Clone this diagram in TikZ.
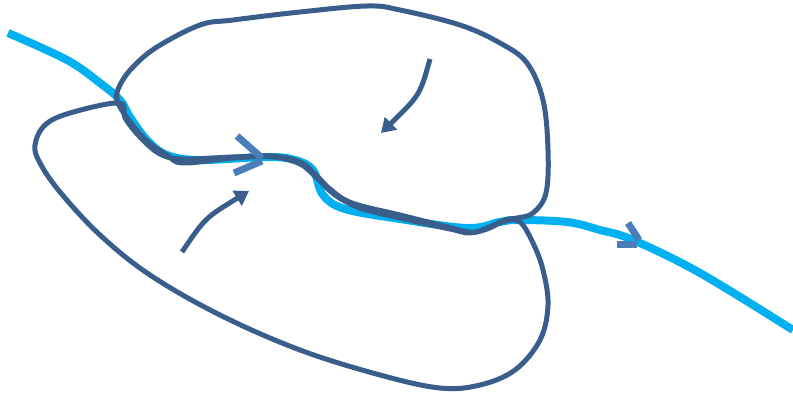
\documentclass[tikz,border=0pt]{standalone}
\usetikzlibrary{arrows.meta}
\definecolor{darkblue}{RGB}{58,94,140}
\definecolor{lightblue}{RGB}{0,176,240}
\definecolor{markblue}{RGB}{74,126,187}
\tikzset{
  loopline/.style={draw=darkblue,line width=5pt,line join=round},
  flowline/.style={draw=lightblue,line width=8pt,line join=round},
  markline/.style={draw=markblue,line width=7pt},
  curvedarrow/.style={draw=darkblue,line width=5pt,-{Triangle[length=14pt,width=17pt]}}
}
\begin{document}
\begin{tikzpicture}[x=1pt,y=-1pt]
\useasboundingbox (0,0) rectangle (793,396);
% light blue flow line
\draw[flowline] plot[smooth,tension=0.6] coordinates {(8,33) (67,60) (100,83) (120,100) (130,117) (147,140) (167,155) (200,160) (267,157) (295,160) (313,170) (323,195) (345,209) (400,219) (467,228) (500,222) (517,220) (567,222) (600,230) (633,240) (700,273) (793,330)};
% upper loop
\draw[loopline] plot[smooth cycle,tension=0.6] coordinates {(117,100) (120,85) (133,67) (157,47) (200,25) (233,20) (300,12) (367,6) (400,10) (460,25) (500,43) (527,63) (543,100) (548,150) (546,193) (533,213) (517,218) (505,220) (487,228) (470,233) (450,229) (400,218) (360,208) (335,195) (318,179) (300,164) (273,157) (233,158) (183,163) (167,155) (147,141) (128,119)};
% lower loop
\draw[loopline] plot[smooth cycle,tension=0.6] coordinates {(119,103) (70,113) (45,125) (35,145) (40,163) (60,192) (100,235) (150,275) (220,315) (300,350) (380,375) (440,388) (480,385) (515,370) (540,340) (548,305) (543,270) (533,243) (520,222) (505,221) (487,229) (470,232) (440,225) (400,215) (352,203) (330,189) (315,174) (300,162) (273,156) (233,157) (183,159) (160,154) (140,137) (125,118)};
% curved arrows
\draw[curvedarrow] (430,59) .. controls (420,95) .. (381,133);
\draw[curvedarrow] (182,252) .. controls (205,218) .. (249,191);
% direction marks
\draw[markline] (237,136) -- (262,158);
\draw[markline] (234,173) -- (262,161);
\draw[markline] (628,223) -- (639,240);
\draw[markline] (617,244) -- (637,244);
\end{tikzpicture}
\end{document}
